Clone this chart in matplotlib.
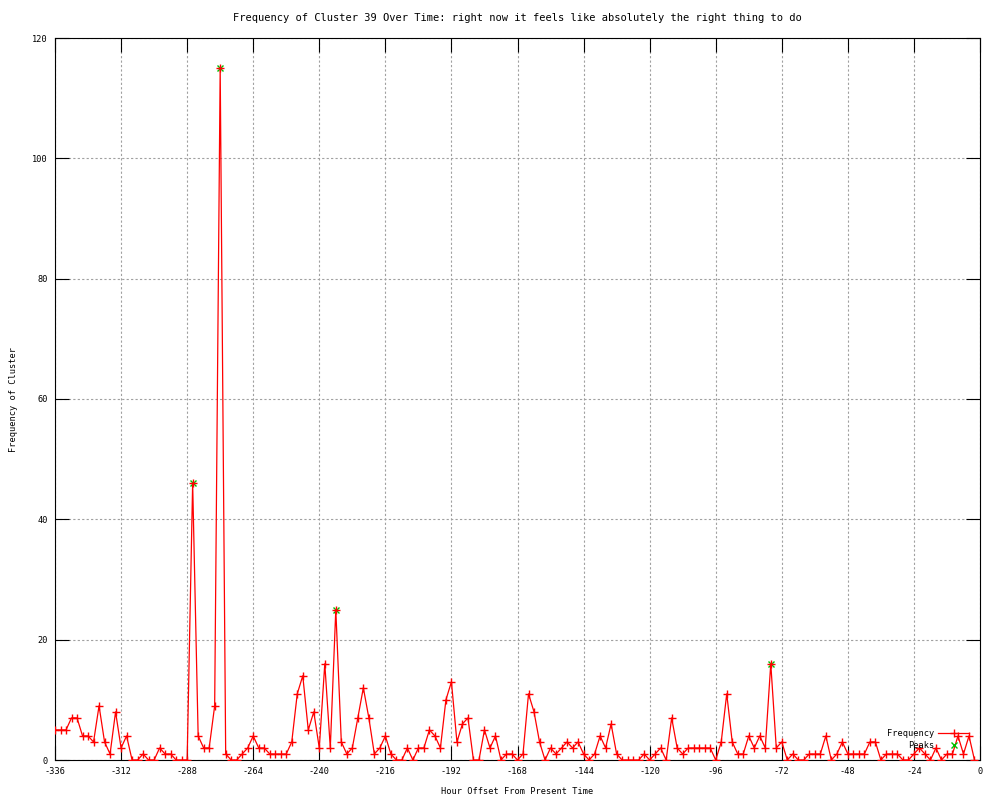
import numpy as np
import matplotlib
matplotlib.use("Agg")
import matplotlib.pyplot as plt

# hours before present (every 2 hours) and counts
hours = list(range(-336, 0, 2))
freq = [5, 5, 5, 7, 7, 4, 4, 3, 9, 3, 1, 8, 2, 4, 0, 0, 1, 0, 0, 2,
        1, 1, 0, 0, 0, 46, 4, 2, 2, 9, 115, 1, 0, 0, 1, 2, 4, 2, 2, 1,
        1, 1, 1, 3, 11, 14, 5, 8, 2, 16, 2, 25, 3, 1, 2, 7, 12, 7, 1, 2,
        4, 1, 0, 0, 2, 0, 2, 2, 5, 4, 2, 10, 13, 3, 6, 7, 0, 0, 5, 2,
        4, 0, 1, 1, 0, 1, 11, 8, 3, 0, 2, 1, 2, 3, 2, 3, 1, 0, 1, 4,
        2, 6, 1, 0, 0, 0, 0, 1, 0, 1, 2, 0, 7, 2, 1, 2, 2, 2, 2, 2,
        0, 3, 11, 3, 1, 1, 4, 2, 4, 2, 16, 2, 3, 0, 1, 0, 0, 1, 1, 1,
        4, 0, 1, 3, 1, 1, 1, 1, 3, 3, 0, 1, 1, 1, 0, 0, 1, 2, 1, 0,
        2, 0, 1, 1, 4, 1, 4, 0]

peak_hours = [-286, -276, -234, -76]
peak_values = [46, 115, 25, 16]

x_ticks = list(range(-336, 1, 24))
y_ticks = list(range(0, 121, 20))

plt.rcParams['font.family'] = ['DejaVu Sans Mono']
plt.rcParams['font.size'] = 6.2
plt.rcParams['axes.unicode_minus'] = False

fig = plt.figure(figsize=(10, 8), dpi=100)
ax = fig.add_axes([0.055, 0.05, 0.925, 0.9025])

ax.plot(peak_hours, peak_values, linestyle='none', marker='x', color='#00c000',
        markersize=5, markeredgewidth=1, label='Peaks', zorder=3)
ax.plot(hours, freq, color='red', linewidth=0.9, marker='+', markersize=6,
        markeredgewidth=1, label='Frequency', zorder=4)

ax.set_xlim(-336, 0)
ax.set_ylim(0, 120)
ax.set_xticks(x_ticks)
ax.set_yticks(y_ticks)
ax.tick_params(direction='in', length=10, width=0.8, top=True, right=True,
               pad=5, colors='black')
ax.grid(True, color='#a0a0a0', linestyle=(0, (2, 2)), linewidth=0.8)
for s in ax.spines.values():
    s.set_linewidth(0.8)

ax.set_title("Frequency of Cluster 39 Over Time: right now it feels like absolutely the right thing to do",
             pad=12)
ax.set_xlabel("Hour Offset From Present Time", labelpad=8)
ax.set_ylabel("Frequency of Cluster", labelpad=10)

h, l = ax.get_legend_handles_labels()
ax.legend(h[::-1], l[::-1], loc='lower right', bbox_to_anchor=(0.995, 0.005),
          frameon=False, markerfirst=False, handlelength=3.6,
          labelspacing=0.35, borderpad=0.2, handletextpad=0.5)

fig.savefig("out.png", dpi=100)
